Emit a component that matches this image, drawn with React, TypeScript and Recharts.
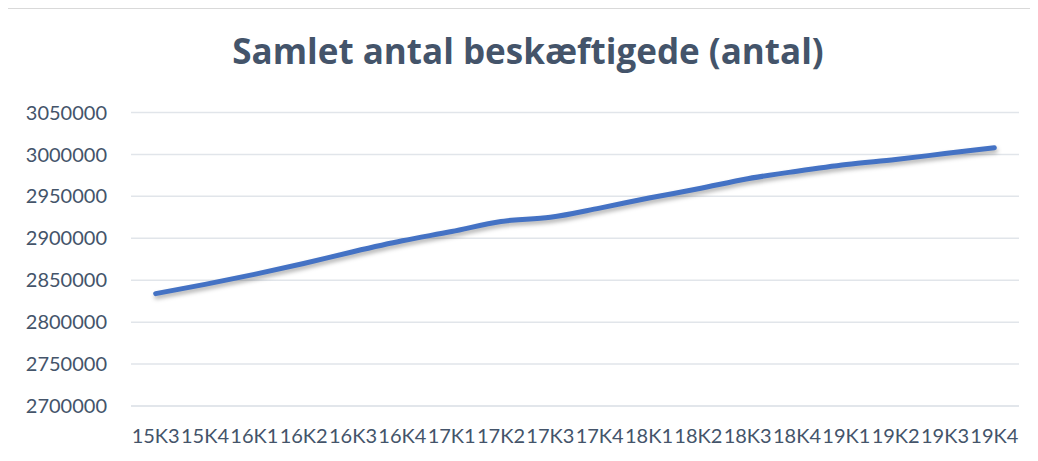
import React from "react";
import { LineChart, Line, XAxis, YAxis, CartesianGrid } from "recharts";

const categories = [
  "15K3", "15K4", "16K1", "16K2", "16K3", "16K4", "17K1", "17K2", "17K3",
  "17K4", "18K1", "18K2", "18K3", "18K4", "19K1", "19K2", "19K3", "19K4",
];
const employed = [
  2834000, 2845000, 2857000, 2870000, 2884000, 2897000, 2908000, 2920000, 2925000,
  2936000, 2948000, 2959000, 2971000, 2980000, 2988000, 2994000, 3001000, 3008000,
];
const yTicks = [2700000, 2750000, 2800000, 2850000, 2900000, 2950000, 3000000, 3050000];
const title = "Samlet antal beskæftigede (antal)";

const data = categories.map((c, i) => ({ x: i + 0.5, label: c, value: employed[i] }));
const boundaryTicks = categories.map((_, i) => i).concat([categories.length]);
const centerTicks = categories.map((_, i) => i + 0.5);

const FONT = "Lato, 'Open Sans', sans-serif";
const TEXT = "#44546A";
const GRID = "#E1E5EA";

export default function App() {
  return (
    <div
      style={{
        position: "relative",
        width: 1022,
        height: 460,
        border: "1px solid #D9D9D9",
        background: "#fff",
        fontFamily: FONT,
        marginLeft: -1,
      }}
    >
      <style>{`.recharts-line-curve{filter:drop-shadow(1px 3px 2px rgba(0,0,0,0.3));}`}</style>
      <div
        style={{
          position: "absolute",
          left: 0,
          width: 1040,
          top: 22,
          textAlign: "center",
          fontSize: 35,
          fontWeight: 700,
          fontFamily: "'Open Sans', Lato, sans-serif",
          color: TEXT,
          lineHeight: "40px",
          whiteSpace: "nowrap",
        }}
      >
        {title}
      </div>
      <LineChart
        width={1021}
        height={450}
        data={data}
        margin={{ top: 103.5, right: 10, bottom: 13, left: 0 }}
      >
        <CartesianGrid xAxisId="grid" vertical={false} stroke={GRID} strokeWidth={1.5} />
        <XAxis
          xAxisId="grid"
          dataKey="x"
          type="number"
          domain={[0, categories.length]}
          ticks={boundaryTicks}
          tick={false}
          tickSize={7}
          tickLine={{ stroke: GRID, strokeWidth: 1.5 }}
          axisLine={{ stroke: GRID, strokeWidth: 1.5 }}
          height={8}
          allowDataOverflow
        />
        <XAxis
          xAxisId="labels"
          dataKey="x"
          type="number"
          domain={[0, categories.length]}
          ticks={centerTicks}
          tickFormatter={(v: number) => categories[Math.floor(v)]}
          tick={{ fill: TEXT, fontSize: 20, fontFamily: FONT }}
          tickLine={false}
          axisLine={false}
          tickSize={0}
          tickMargin={15}
          interval={0}
          height={32}
        />
        <YAxis
          domain={[2700000, 3050000]}
          ticks={yTicks}
          width={123}
          tickSize={0}
          tickMargin={24}
          axisLine={false}
          tickLine={false}
          tick={{ fill: TEXT, fontSize: 20, fontFamily: FONT }}
          interval={0}
        />
        <Line
          xAxisId="grid"
          type="monotone"
          dataKey="value"
          stroke="#4472C4"
          strokeWidth={5}
          strokeLinecap="round"
          dot={false}
          activeDot={false}
          isAnimationActive={false}
        />
      </LineChart>
    </div>
  );
}
